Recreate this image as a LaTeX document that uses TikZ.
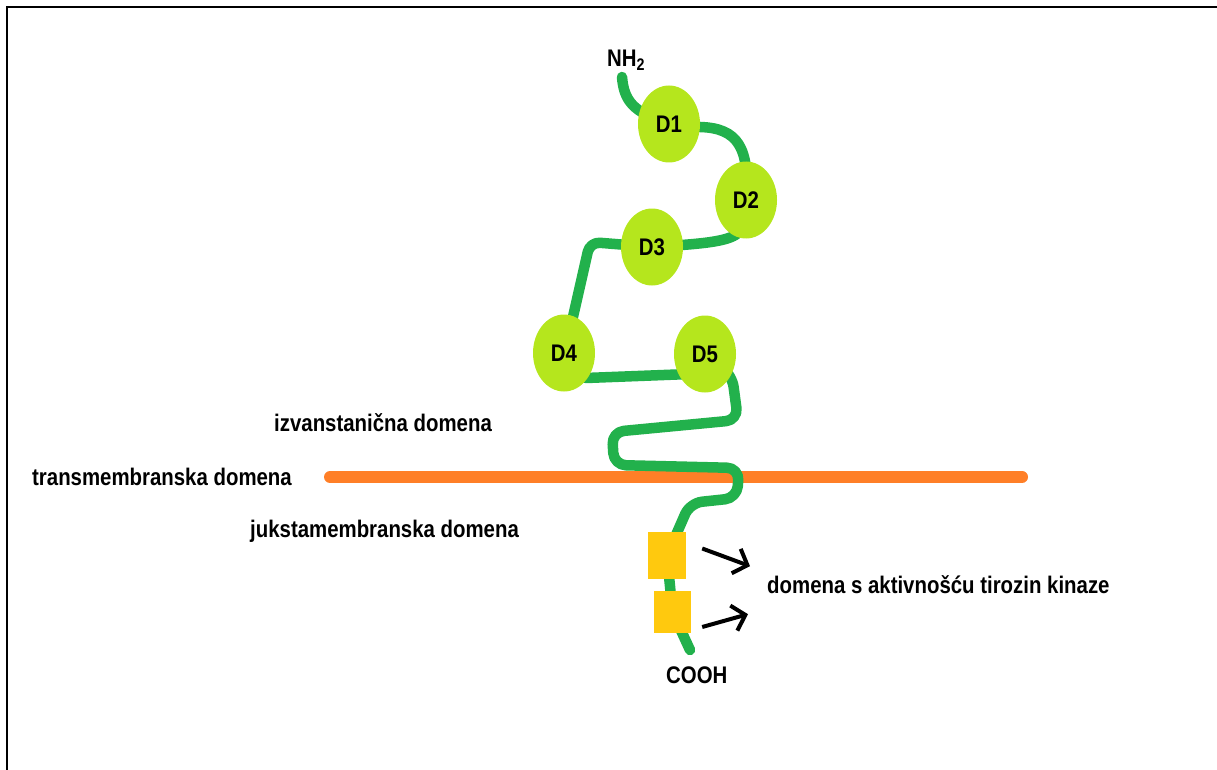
\documentclass[tikz,border=0pt]{standalone}
\usepackage{fontspec}
\setmainfont{Liberation Sans}[FakeStretch=0.85]
\usetikzlibrary{shapes.geometric,arrows.meta,backgrounds}
\definecolor{chaingreen}{RGB}{34,177,76}
\definecolor{domlime}{RGB}{181,230,29}
\definecolor{memorange}{RGB}{255,127,39}
\definecolor{kinyellow}{RGB}{255,201,14}
\tikzset{
  lbl/.style={font=\fontsize{24}{26}\selectfont\bfseries, inner sep=0pt},
  dom/.style={ellipse, fill=domlime, minimum width=62pt, minimum height=77pt, inner sep=0pt, lbl},
  kin/.style={fill=kinyellow, inner sep=0pt},
  chain/.style={chaingreen, line width=10.5pt, line cap=round, line join=round},
  membrane/.style={memorange, line width=12pt, line cap=round},
  pointer/.style={line width=4pt, -{Straight Barb[length=12pt,width=26pt]}},
}

\begin{document}
\begin{tikzpicture}[x=1pt,y=-1pt]
            \useasboundingbox (0,0) rectangle (1217,770);
            \draw[line width=2.5pt] (7,770) -- (7,7) -- (1217,7);
            % domains
            \node[dom] (d1) at (669,124) {D1};
            \node[dom] (d2) at (746,200) {D2};
            \node[dom] (d3) at (652,247) {D3};
            \node[dom] (d4) at (564,353) {D4};
            \node[dom] (d5) at (705,354) {D5};
            \node[kin, minimum width=38pt, minimum height=47pt] (k1) at (667,555.5) {};
            \node[kin, minimum width=37pt, minimum height=42pt] (k2) at (672.5,612) {};
            % labels
            \node[lbl, anchor=base west] (nh) at (607,67) {NH\textsubscript{2}};
            \node[lbl, anchor=base west] (cooh) at (666,683) {COOH};
            \node[lbl, anchor=base west] (izv) at (274,431) {izvanstanična domena};
            \node[lbl, anchor=base west] (trans) at (32,485) {transmembranska domena};
            \node[lbl, anchor=base west] (juk) at (250,537) {jukstamembranska domena};
            \node[lbl, anchor=base west] (tk) at (767,593) {domena s aktivnošću tirozin kinaze};
            \coordinate (nend) at (622,77);
            \coordinate (cend) at (690,650);
            \begin{pgfonlayer}{background}
            \draw[membrane] (330,477) -- (1022,477);
            \draw[chain] (nend) .. controls (624,100) and (632,112) .. (d1.center);
            \draw[chain] (d1.center) -- (700,127) .. controls (738,128) and (750,148) .. (d2.center);
            \draw[chain] (d2.center) -- (738,233) .. controls (728,242) and (700,244) .. (d3.center);
            \draw[chain, rounded corners=10pt] (d3.center) -- (590,242) -- (570,330) -- (d4.center);
            \draw[chain] (d4.center) -- (586,378) -- (690,374) -- (d5.center);
            \draw[chain, rounded corners=12pt] (d5.center) -- (732,375) -- (738,420) -- (612,432)
                -- (614,465) -- (739,468) -- (737,498) -- (690,503) -- (k1.center);
            \draw[chain] (k1.center) -- (k2.center) -- (cend);
            \end{pgfonlayer}
            \draw[pointer] ([xshift=16pt,yshift=7pt]k1.east) -- ([xshift=-17pt,yshift=18pt]tk.west);
            \draw[pointer] ([xshift=11pt,yshift=-15pt]k2.east) -- ([xshift=-19pt,yshift=-30pt]tk.west);
        \end{tikzpicture}
\end{document}
